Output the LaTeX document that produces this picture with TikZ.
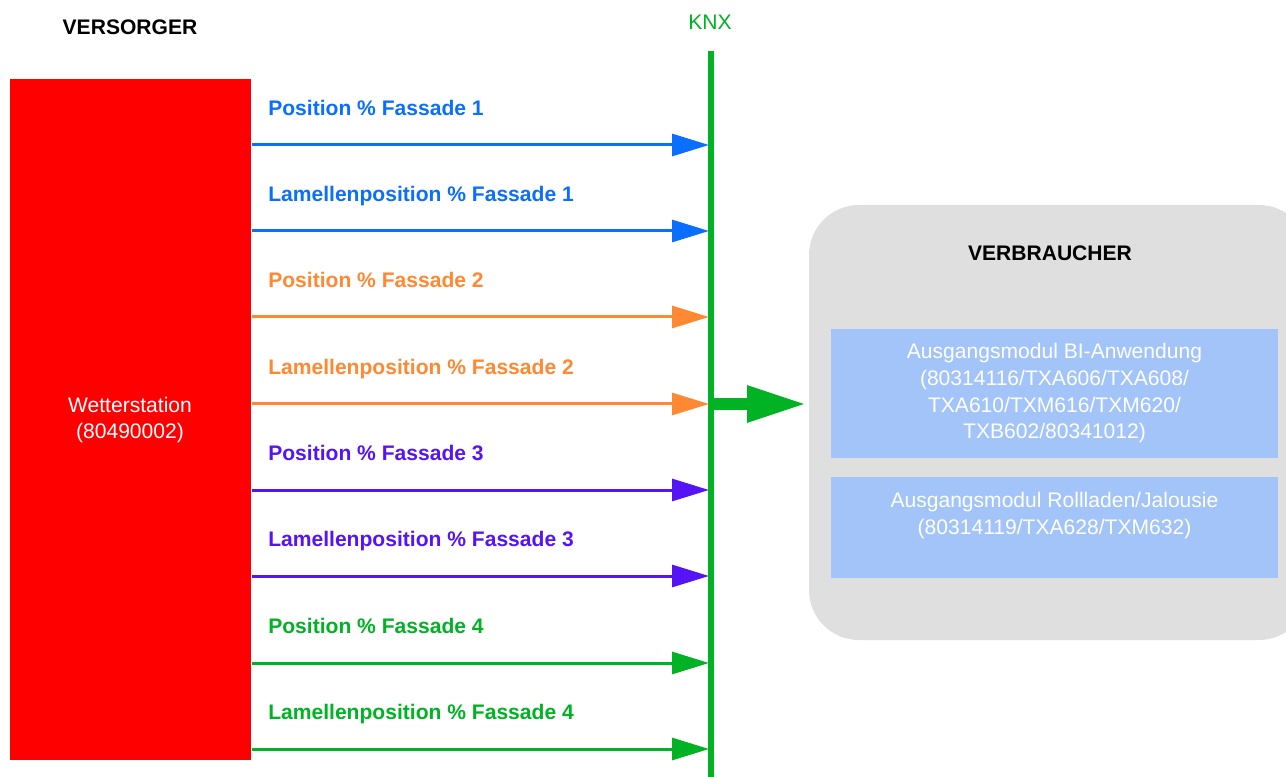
\documentclass[tikz,border=0pt]{standalone}
\usepackage{fontspec}
\setmainfont{Liberation Sans}
\usetikzlibrary{arrows.meta}
\definecolor{cblue}{RGB}{10,110,255}
\definecolor{corange}{RGB}{255,136,51}
\definecolor{cpurple}{RGB}{85,20,245}
\definecolor{cgreen}{RGB}{0,178,36}
\definecolor{cred}{RGB}{255,0,0}
\definecolor{cgray}{RGB}{223,223,223}
\definecolor{cbox}{RGB}{162,196,248}
\tikzset{
  lbl/.style={anchor=base west, font=\fontsize{15.8}{18}\selectfont\bfseries, inner sep=0pt},
  conn/.style={line width=2.25pt, -{Triangle[length=27.75pt,width=16.5pt]}},
  modbox/.style={fill=cbox, draw=none, inner sep=0pt},
  modtxt/.style={text=white, align=center, font=\fontsize{15.8}{20}\selectfont, inner sep=0pt},
  hdr/.style={font=\fontsize{15.8}{18}\selectfont\bfseries, inner sep=0pt}
}
\begin{document}
\begin{tikzpicture}[x=0.75pt,y=-0.75pt]
\useasboundingbox (0,0) rectangle (1286,777);
\clip (0,0) rectangle (1286,777);
% supplier
\node[hdr] (versorger) at (130,27) {VERSORGER};
\node[fill=cred, draw=none, minimum width=241*0.75pt, minimum height=681*0.75pt, inner sep=0pt] (ws) at (130.5,419.5) {};
\node[text=white, align=center, font=\fontsize{15.8}{20}\selectfont, inner sep=0pt] (wstxt) at (130,420) {Wetterstation\\(80490002)};
% bus
\node[text=cgreen, font=\fontsize{15.8}{18}\selectfont, inner sep=0pt] (knx) at (710,22) {KNX};
\coordinate (bustop) at (711,51);
\coordinate (busbot) at (711,777);
\draw[cgreen, line width=4.5pt] (bustop) -- (busbot);
% consumer
\node[fill=cgray, draw=none, rounded corners=37.5pt, minimum width=500*0.75pt, minimum height=435*0.75pt, inner sep=0pt] (verb) at (1059,422.5) {};
\node[hdr] (verbtitle) at (1050,253) {VERBRAUCHER};
\node[modbox, minimum width=447*0.75pt, minimum height=129*0.75pt] (m1) at (1054.5,393.5) {};
\node[modtxt] (m1t) at (1054.5,393.5) {Ausgangsmodul BI-Anwendung\\(80314116/TXA606/TXA608/\\TXA610/TXM616/TXM620/\\TXB602/80341012)};
\node[modbox, minimum width=447*0.75pt, minimum height=101*0.75pt] (m2) at (1054.5,527.5) {};
\node[modtxt] (m2t) at (1054.5,515.5) {Ausgangsmodul Rollladen/Jalousie\\(80314119/TXA628/TXM632)};
% big arrow
\coordinate (bigs) at (711,404);
\coordinate (bigt) at (807,404);
\draw[cgreen, line width=9pt, -{Triangle[length=45pt,width=25.5pt]}] (bigs) -- (bigt);
% signals
\foreach \i/\y/\c/\t in {
 1/145/cblue/{Position \% Fassade 1},
 2/231/cblue/{Lamellenposition \% Fassade 1},
 3/317/corange/{Position \% Fassade 2},
 4/404/corange/{Lamellenposition \% Fassade 2},
 5/490/cpurple/{Position \% Fassade 3},
 6/576/cpurple/{Lamellenposition \% Fassade 3},
 7/663/cgreen/{Position \% Fassade 4},
 8/749/cgreen/{Lamellenposition \% Fassade 4}} {
  \coordinate (s\i) at (252,\y);
  \coordinate (t\i) at (709,\y);
  \node[lbl, text=\c] (l\i) at (268,\y-29.5) {\t};
  \draw[conn, draw=\c, fill=\c] (s\i) -- (t\i);
}
\end{tikzpicture}
\end{document}
